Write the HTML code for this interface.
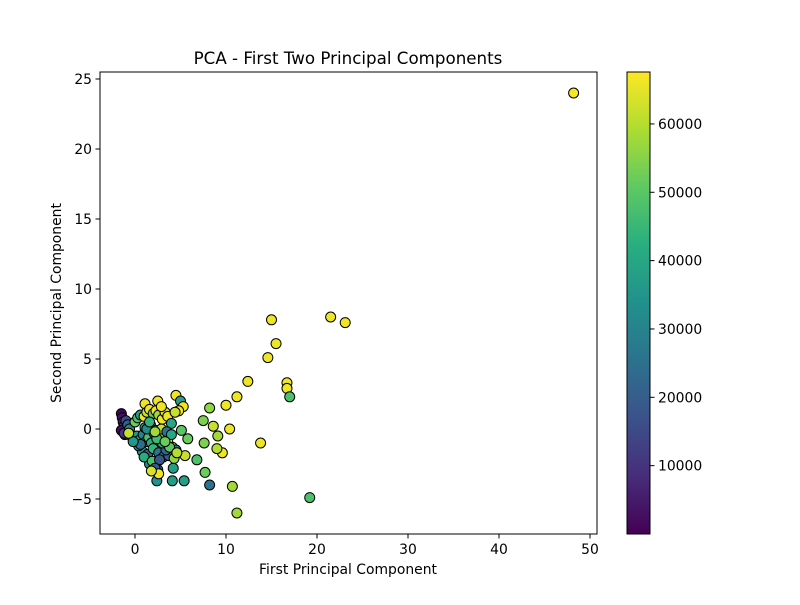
<!DOCTYPE html>
<html><head><meta charset="utf-8"><style>
body{margin:0;background:#fff;font-family:"Liberation Sans","DejaVu Sans",sans-serif}
svg text{font-family:"DejaVu Sans","Liberation Sans",sans-serif;fill:#000}
</style></head><body>
<svg id="c" width="800" height="600" xmlns="http://www.w3.org/2000/svg">
<defs><linearGradient id="vir" x1="0" y1="1" x2="0" y2="0">
<stop offset="0" stop-color="#440154"/><stop offset="0.125" stop-color="#472d7b"/><stop offset="0.25" stop-color="#3b528b"/><stop offset="0.375" stop-color="#2c728e"/><stop offset="0.5" stop-color="#21918c"/><stop offset="0.625" stop-color="#28ae80"/><stop offset="0.75" stop-color="#5ec962"/><stop offset="0.875" stop-color="#addc30"/><stop offset="1" stop-color="#fde725"/></linearGradient>
<clipPath id="clip"><rect x="100" y="72" width="497" height="462"/></clipPath></defs>
<text x="348" y="64" font-size="16.7" text-anchor="middle">PCA - First Two Principal Components</text>
<g id="pts" clip-path="url(#clip)"></g>
<rect x="100" y="72" width="497" height="462" fill="none" stroke="#000" stroke-width="1"/>
<g id="xt"></g>
<g id="yt"></g>
<text x="348" y="574" font-size="13.9" text-anchor="middle">First Principal Component</text>
<text transform="translate(61,303) rotate(-90)" font-size="13.9" text-anchor="middle">Second Principal Component</text>
<rect x="627" y="72" width="23" height="462" fill="url(#vir)" stroke="#000" stroke-width="1"/>
<g id="ct"></g>
</svg>
<script>
const xTicks=[0,10,20,30,40,50];
const yTicks=[-5,0,5,10,15,20,25];
const cTicks=[10000,20000,30000,40000,50000,60000];
const px=[48.2,15.0,21.5,23.1,15.5,14.6,12.4,16.7,16.7,17.0,11.2,10.0,8.2,10.4,13.8,8.6,7.5,9.6,9.0,9.1,7.6,7.7,6.8,8.2,10.7,11.2,19.2,5.4,5.5,5.8,5.1,4.5,5.0,5.3,4.8,2.5,1.1,4.1,2.4,2.5,4.2,1.6,
-1.5,-1.4,-1.3,-1.2,-1.5,-1.1,-1.0,-0.8,-1.2,-0.6,-0.3,0.0,0.3,0.6,1.0,1.3,1.6,2.0,2.3,2.6,3.0,3.3,3.6,4.0,4.4,0.2,0.5,0.9,1.2,1.5,1.8,2.1,2.5,2.8,3.2,3.6,4.1,4.5,0.8,1.4,2.0,2.6,3.1,3.7,4.3,1.1,1.7,2.3,2.9,3.5,0.4,1.0,1.9,2.7,3.4,2.2,2.6,1.8,3.0,4.0,2.4,1.3,0.6,-0.2,-0.7,3.8,4.6,2.9,1.6,2.2,3.3];
const py=[24.0,7.8,8.0,7.6,6.1,5.1,3.4,3.3,2.9,2.3,2.3,1.7,1.5,0.0,-1.0,0.2,0.6,-1.7,-1.4,-0.5,-1.0,-3.1,-2.2,-4.0,-4.1,-6.0,-4.9,-3.7,-1.9,-0.7,-0.1,2.4,2.0,1.6,1.3,2.0,1.8,-3.7,-3.7,-2.9,-2.8,-2.5,
1.1,0.8,0.5,0.2,-0.1,-0.4,0.6,0.3,-0.3,0.0,-0.6,0.5,0.8,1.0,0.9,1.2,1.4,1.1,1.3,1.0,0.7,1.2,0.9,0.4,1.2,-0.5,-0.8,-0.4,-0.9,-0.6,-1.0,-0.3,-0.8,-1.2,-0.5,-0.9,-1.3,-1.5,-1.6,-1.8,-1.4,-1.7,-2.0,-1.9,-2.1,0.1,0.3,-0.1,0.0,-0.2,-1.2,-2.0,-2.3,-2.2,-1.5,-2.8,-3.2,-3.0,-1.0,-0.4,-0.7,0.0,-1.1,-0.9,-0.3,-1.3,-1.7,1.6,0.5,-0.2,-0.9];
const pc=[67000,66000,66000,66000,66000,66000,66000,66000,66000,48000,66000,66000,56000,66000,66000,62000,54000,66000,60000,58000,54000,52000,48000,25000,58000,58000,48000,38000,62000,52000,50000,66000,38000,66000,66000,66000,66000,38000,34000,22000,38000,34000,
1000,3000,6000,9000,2000,12000,15000,20000,10000,30000,28000,52000,48000,38000,66000,62000,66000,52000,66000,58000,66000,64000,66000,40000,62000,36000,44000,30000,40000,48000,42000,28000,52000,66000,58000,66000,62000,30000,38000,22000,44000,26000,40000,20000,56000,36000,30000,46000,62000,26000,34000,42000,48000,18000,22000,20000,66000,64000,42000,40000,46000,32000,24000,36000,62000,50000,60000,66000,44000,58000,52000];
const X=v=>135+(v)*9.1, Y=v=>429-v*14, C=v=>534-(v-0)*(462/67600);
const stops=[[68,1,84],[71,45,123],[59,82,139],[44,114,142],[33,145,140],[40,174,128],[94,201,98],[173,220,48],[253,231,37]];
function vir(t){if(!isFinite(t))t=0.5;t=Math.max(0,Math.min(1,t))*8;const i=Math.min(7,Math.floor(t)),f=t-i,a=stops[i],b=stops[i+1];return `rgb(${a.map((v,k)=>Math.round(v+(b[k]-v)*f)).join(',')})`;}
const NS='http://www.w3.org/2000/svg';
function mk(tag,attrs,parent){const e=document.createElementNS(NS,tag);for(const k in attrs)e.setAttribute(k,attrs[k]);parent.appendChild(e);return e;}
const g=document.getElementById('pts');
const n=Math.min(px.length,py.length,pc.length);
for(let i=0;i<n;i++){const e=mk('circle',{cx:X(px[i]),cy:Y(py[i]),r:5,fill:vir(pc[i]/67600),stroke:'#000','stroke-width':1},g);

}
const xt=document.getElementById('xt');
xTicks.forEach(v=>{mk('line',{x1:X(v),x2:X(v),y1:534,y2:538.5,stroke:'#000'},xt);const t=mk('text',{x:X(v),y:554,'font-size':13.9,'text-anchor':'middle'},xt);t.textContent=v;

});
const yt=document.getElementById('yt');
yTicks.forEach(v=>{mk('line',{x1:95.5,x2:100,y1:Y(v),y2:Y(v),stroke:'#000'},yt);const t=mk('text',{x:92,y:Y(v)+5,'font-size':13.9,'text-anchor':'end'},yt);t.textContent=v<0?'\u2212'+(-v):v;

});
const ct=document.getElementById('ct');
cTicks.forEach(v=>{mk('line',{x1:650,x2:654.5,y1:C(v),y2:C(v),stroke:'#000'},ct);const t=mk('text',{x:658,y:C(v)+5,'font-size':13.9},ct);t.textContent=v;

});
</script>
</body></html>
